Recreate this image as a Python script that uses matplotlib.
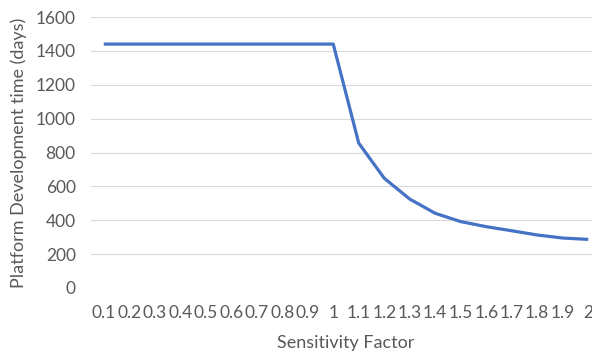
import matplotlib.pyplot as plt

plt.rcParams['font.family'] = ['Lato', 'DejaVu Sans']

factors = ['0.1', '0.2', '0.3', '0.4', '0.5', '0.6', '0.7', '0.8', '0.9', '1',
           '1.1', '1.2', '1.3', '1.4', '1.5', '1.6', '1.7', '1.8', '1.9', '2']
dev_time = [1440, 1440, 1440, 1440, 1440, 1440, 1440, 1440, 1440, 1440,
            855, 648, 525, 441, 392, 362, 338, 313, 295, 287]

fig = plt.figure(figsize=(5.92, 3.53), dpi=100)
ax = fig.add_axes([91 / 592, 65 / 353, 510 / 592, 271 / 353])

ax.plot(range(len(factors)), dev_time, color='#4472C4', linewidth=2.3,
        solid_capstyle='butt')

ax.set_xlim(-0.5, len(factors) - 0.5)
ax.set_ylim(0, 1600)
ax.set_yticks(range(0, 1601, 200))
ax.set_xticks(range(len(factors)))
ax.set_xticklabels(factors)

ax.grid(axis='y', color='#d9d9d9', linewidth=0.8)
ax.set_axisbelow(True)
for s in ax.spines.values():
    s.set_visible(False)
ax.tick_params(length=0, labelsize=12.5, labelcolor='#595959', pad=11)
ax.tick_params(axis='x', pad=12)

ax.set_xlabel('Sensitivity Factor', fontsize=13, color='#595959', labelpad=10)
ax.set_ylabel('Platform Development time (days)', fontsize=13, color='#595959',
              labelpad=6)

fig.savefig('out.png', dpi=100)
